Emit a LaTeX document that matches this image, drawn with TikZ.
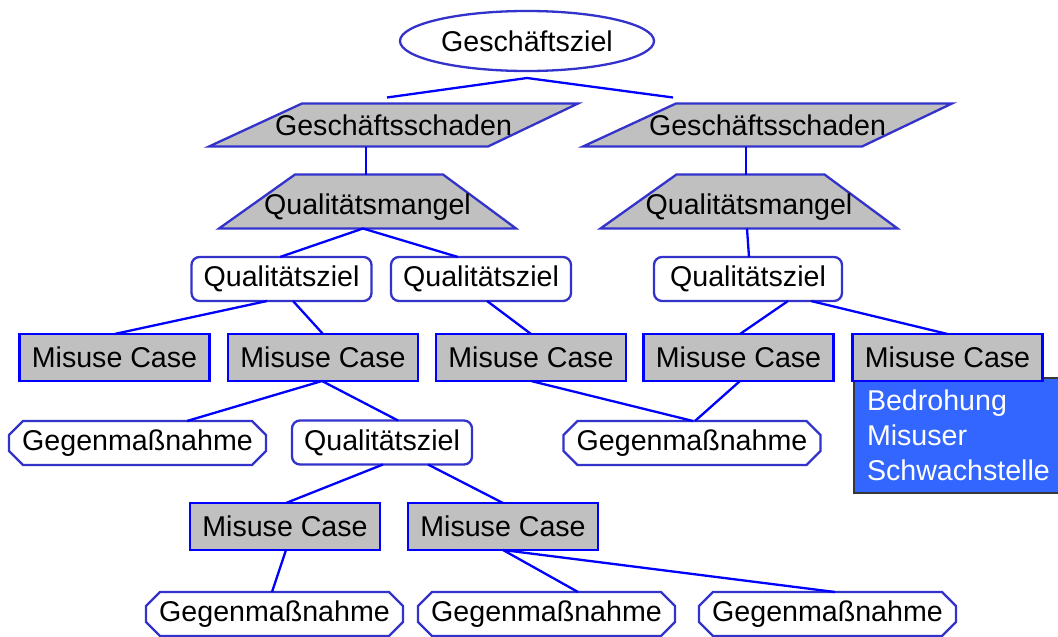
\documentclass[tikz,border=0pt]{standalone}
\usepackage{fontspec}
\setmainfont{Liberation Sans}
\usetikzlibrary{shapes.geometric,calc}
\pgfdeclarelayer{bg}
\pgfsetlayers{bg,main}
\definecolor{linkblue}{RGB}{0,0,255}
\definecolor{edgeblue}{RGB}{51,51,204}
\definecolor{boxgray}{RGB}{192,192,192}
\definecolor{infoblue}{RGB}{51,102,255}
\definecolor{infoedge}{RGB}{55,55,55}
\tikzset{
  every node/.style={font=\fontsize{28.6}{35}\selectfont, inner sep=0pt, outer sep=0pt},
  conn/.style={draw=linkblue, line width=2.3pt},
  goalnode/.style={ellipse, draw=edgeblue, line width=2.3pt, minimum width=254pt, minimum height=60pt},
  misuse/.style={rectangle, draw=linkblue, fill=boxgray, line width=2.4pt, minimum width=190pt, minimum height=47pt},
  qgoal/.style={rectangle, rounded corners=8pt, draw=edgeblue, fill=white, line width=2.3pt, minimum width=180pt, minimum height=44pt},
  paranode/.style={rectangle, minimum width=369pt, minimum height=43pt},
  trapnode/.style={rectangle, minimum width=297pt, minimum height=54pt},
  octnode/.style={rectangle, minimum width=257pt, minimum height=44pt},
  shapeline/.style={draw=edgeblue, line width=2.3pt, fill=boxgray, line join=miter},
  gmline/.style={draw=edgeblue, line width=2.3pt, fill=white},
  infobox/.style={rectangle, anchor=north west, fill=infoblue, draw=infoedge, line width=1.6pt,
    text=white, align=left, text width=192pt, inner xsep=13pt, inner ysep=12pt}
}
\newcommand{\drawpara}[1]{\begin{pgfonlayer}{bg}\path[shapeline] (#1.south west) -- ([xshift=-90pt]#1.south east) -- (#1.north east) -- ([xshift=93pt]#1.north west) -- cycle;\end{pgfonlayer}}
\newcommand{\drawtrap}[1]{\begin{pgfonlayer}{bg}\path[shapeline] (#1.south west) -- (#1.south east) -- ([xshift=-73pt]#1.north east) -- ([xshift=76pt]#1.north west) -- cycle;\end{pgfonlayer}}
\newcommand{\drawocta}[1]{\begin{pgfonlayer}{bg}\path[gmline] ([xshift=14pt]#1.north west) -- ([xshift=-14pt]#1.north east) -- ([yshift=-14pt]#1.north east) -- ([yshift=14pt]#1.south east) -- ([xshift=-14pt]#1.south east) -- ([xshift=14pt]#1.south west) -- ([yshift=14pt]#1.south west) -- ([yshift=-14pt]#1.north west) -- cycle;\end{pgfonlayer}}
\begin{document}
\begin{tikzpicture}[x=1pt,y=-1pt]
\begin{pgfonlayer}{bg}
\fill[white] (0,0) rectangle (1058,637);
\end{pgfonlayer}
\useasboundingbox (0,0) rectangle (1058,637);
% top goal
\node[goalnode] (e) at (527,41) {Geschäftsziel};
% damages
\node[paranode] (p1) at (393.5,125) {Geschäftsschaden};
\drawpara{p1}
\node[paranode] (p2) at (767.5,125) {Geschäftsschaden};
\drawpara{p2}
% quality defects
\node[trapnode] (t1) at (367.5,201.5) {};
\drawtrap{t1}
\node (t1l) at ([yshift=-6pt]t1.center) {Qualitätsmangel};
\node[trapnode] (t2) at (749,201.5) {};
\drawtrap{t2}
\node (t2l) at ([yshift=-6pt]t2.center) {Qualitätsmangel};
% quality goals
\node[qgoal] (q1) at (281.5,279) {Qualitätsziel};
\node[qgoal] (q2) at (481,279) {Qualitätsziel};
\node[qgoal, minimum width=188pt] (q3) at (748,279) {Qualitätsziel};
% misuse cases row 1
\node[misuse] (m1) at (114.5,357.5) {Misuse Case};
\node[misuse] (m2) at (323,357.5) {Misuse Case};
\node[misuse] (m3) at (531,357.5) {Misuse Case};
\node[misuse] (m4) at (738.5,357.5) {Misuse Case};
\node[infobox] (info) at (854,378) {Bedrohung\\Misuser\\Schwachstelle};
\node[misuse] (m5) at (947.5,357.5) {Misuse Case};
% row 2
\node[octnode] (g1) at (137.5,443) {Gegenmaßnahme};
\drawocta{g1}
\node[qgoal] (q4) at (382,442.5) {Qualitätsziel};
\node[octnode] (g2) at (692,443) {Gegenmaßnahme};
\drawocta{g2}
% row 3
\node[misuse] (m6) at (285,526.5) {Misuse Case};
\node[misuse] (m7) at (503,526.5) {Misuse Case};
% row 4
\node[octnode] (g3) at (274.5,614) {Gegenmaßnahme};
\drawocta{g3}
\node[octnode] (g4) at (546.5,614) {Gegenmaßnahme};
\drawocta{g4}
\node[octnode] (g5) at (827.5,614) {Gegenmaßnahme};
\drawocta{g5}
% connectors
\coordinate (etop) at ($(e.south)+(0,7)$);
\coordinate (p1top) at ($(p1.north)+(-6.5,-6)$);
\coordinate (p2top) at ($(p2.north)+(-94.5,-6)$);
\draw[conn] (p1top) -- (etop) -- (p2top);
\draw[conn] ([xshift=-27.5pt]p1.south) -- ([xshift=-1.5pt]t1.north);
\draw[conn] ([xshift=-21.5pt]p2.south) -- ([xshift=-3pt]t2.north);
\draw[conn] ([xshift=-1.5pt]q1.north) -- ([xshift=-4.5pt]t1.south) -- ([xshift=-23pt]q2.north);
\draw[conn] ([xshift=-2pt]t2.south) -- ([xshift=1pt]q3.north);
\draw[conn] ([xshift=-14.5pt]q1.south) -- (m1.north);
\draw[conn] ([xshift=11.5pt]q1.south) -- (m2.north);
\draw[conn] ([xshift=6pt]q2.south) -- (m3.north);
\draw[conn] ([xshift=40pt]q3.south) -- ([xshift=1.5pt]m4.north);
\draw[conn] ([xshift=63pt]q3.south) -- (m5.north);
\draw[conn] ([xshift=49.5pt]g1.north) -- ([xshift=-1pt]m2.south) -- ([xshift=16pt]q4.north);
\draw[conn] (m3.south) -- ([xshift=1pt]g2.north);
\draw[conn] ([xshift=1.5pt]m4.south) -- ([xshift=3pt]g2.north);
\draw[conn] ([xshift=1pt]q4.south) -- ([xshift=1pt]m6.north);
\draw[conn] ([xshift=46pt]q4.south) -- (m7.north);
\draw[conn] ([xshift=1pt]m6.south) -- ([xshift=-2.5pt]g3.north);
\draw[conn] (m7.south) -- ([xshift=31.5pt]g4.north);
\draw[conn] (m7.south) -- ([xshift=7.5pt]g5.north);
\end{tikzpicture}
\end{document}
